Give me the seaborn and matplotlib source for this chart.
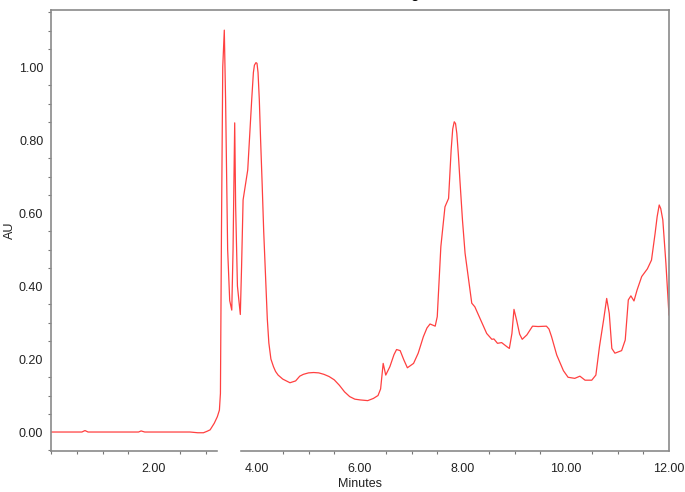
import numpy as np
import pandas as pd
import seaborn as sns
import matplotlib.pyplot as plt
from matplotlib.patches import Rectangle
from matplotlib.ticker import MultipleLocator, FormatStrFormatter

# chromatogram trace (minutes, AU)
minutes = [0.00, 0.60, 0.66, 0.72, 1.70, 1.75, 1.82, 2.70, 2.85, 2.96, 3.03, 3.09,
           3.17, 3.23, 3.27, 3.29, 3.31, 3.335, 3.365, 3.39, 3.43, 3.47, 3.51, 3.535,
           3.555, 3.567, 3.585, 3.62, 3.676, 3.70, 3.73, 3.82, 3.897, 3.93, 3.95, 3.98,
           4.00, 4.02, 4.045, 4.07, 4.10, 4.13, 4.17, 4.20, 4.23, 4.27, 4.32, 4.36,
           4.41, 4.50, 4.64, 4.75, 4.83, 4.90, 5.00, 5.10, 5.20, 5.30, 5.40, 5.50,
           5.60, 5.70, 5.80, 5.90, 6.00, 6.15, 6.26, 6.35, 6.40, 6.45,
           6.50, 6.58, 6.66, 6.71, 6.78, 6.85, 6.92, 7.04, 7.13, 7.23, 7.30, 7.36, 7.46, 7.50, 7.57,
           7.65, 7.72, 7.77, 7.80, 7.83, 7.855, 7.88, 7.91, 7.94, 7.99, 8.04, 8.10, 8.17, 8.23, 8.33, 8.46,
           8.56, 8.60, 8.67, 8.75, 8.85, 8.90, 8.95, 8.99, 9.04, 9.10, 9.15, 9.24, 9.35,
           9.46, 9.62, 9.67, 9.72, 9.82, 9.95, 10.04, 10.17, 10.27, 10.37, 10.50, 10.58, 10.65,
           10.73, 10.79, 10.84, 10.89, 10.95, 11.08, 11.15, 11.21, 11.26, 11.32, 11.38, 11.47,
           11.58, 11.66, 11.73, 11.77, 11.81, 11.84, 11.88, 11.94, 12.00]
au = [0.000, 0.000, 0.004, 0.000, 0.000, 0.003, 0.000, 0.000, -0.002, -0.002, 0.002, 0.006,
      0.024, 0.042, 0.060, 0.106, 0.55, 1.00, 1.101, 0.91, 0.50, 0.36, 0.334, 0.50,
      0.72, 0.847, 0.62, 0.40, 0.322, 0.45, 0.636, 0.718, 0.91, 0.985, 1.005, 1.012,
      1.010, 0.985, 0.91, 0.80, 0.68, 0.55, 0.41, 0.31, 0.244, 0.200, 0.179, 0.166,
      0.156, 0.145, 0.135, 0.140, 0.153, 0.158, 0.162, 0.163, 0.162, 0.158, 0.152, 0.143,
      0.128, 0.110, 0.097, 0.090, 0.088, 0.086, 0.092, 0.100, 0.118, 0.188,
      0.156, 0.179, 0.212, 0.226, 0.223, 0.198, 0.176, 0.188, 0.216, 0.261, 0.285, 0.296, 0.290, 0.316, 0.508,
      0.617, 0.640, 0.773, 0.830, 0.850, 0.845, 0.818, 0.760, 0.690, 0.580, 0.490, 0.426, 0.353, 0.343, 0.311, 0.270,
      0.254, 0.255, 0.243, 0.245, 0.234, 0.229, 0.270, 0.336, 0.307, 0.268, 0.254, 0.266, 0.290,
      0.289, 0.290, 0.282, 0.261, 0.211, 0.168, 0.150, 0.147, 0.153, 0.142, 0.142, 0.156, 0.234,
      0.307, 0.366, 0.325, 0.229, 0.216, 0.223, 0.252, 0.362, 0.373, 0.359, 0.389, 0.426,
      0.447, 0.471, 0.544, 0.590, 0.622, 0.612, 0.581, 0.462, 0.320]

df = pd.DataFrame({"Minutes": minutes, "AU": au})

sns.set_style("white")
plt.rcParams["font.family"] = ["Liberation Sans", "DejaVu Sans"]

fig = plt.figure(figsize=(6.85, 4.92), dpi=100)
ax = fig.add_axes([51/685, 1 - 451/492, 618/685, (451 - 9.7)/492])

sns.lineplot(data=df, x="Minutes", y="AU", color="#ff4040", linewidth=0.9, ax=ax)

ax.set_xlim(0, 12)
ax.set_ylim(-0.052, 1.157)

# ticks: labels every 2 min / 0.2 AU, small ticks in between
ax.xaxis.set_major_locator(MultipleLocator(2))
ax.xaxis.set_minor_locator(MultipleLocator(0.5))
ax.yaxis.set_major_locator(MultipleLocator(0.2))
ax.yaxis.set_minor_locator(MultipleLocator(0.05))
ax.xaxis.set_major_formatter(FormatStrFormatter("%.2f"))
ax.yaxis.set_major_formatter(FormatStrFormatter("%.2f"))
ax.set_xticks([2, 4, 6, 8, 10, 12])

ax.tick_params(axis="both", which="both", direction="out", color="#777777",
               labelsize=9, labelcolor="#222222")
ax.tick_params(axis="x", which="major", length=5, width=0.8, pad=4)
ax.tick_params(axis="x", which="minor", length=2.5, width=0.8, bottom=True)
ax.tick_params(axis="y", which="major", length=4.5, width=0.8, pad=1)
ax.tick_params(axis="y", which="minor", length=2.5, width=0.8, left=True)

for s in ax.spines.values():
    s.set_color("#8a8a8a")
    s.set_linewidth(1.2)

ax.set_xlabel("Minutes", fontsize=9, color="#222222", labelpad=2)
ax.set_ylabel("AU", fontsize=9, color="#222222", labelpad=2)

# gap in the bottom axis line seen in the original
fig.add_artist(Rectangle((218/685, 1 - 462/492), 21/685, 14/492,
                         transform=fig.transFigure, color="white", zorder=10))

# title is cut off at the top edge, only a descender shows
fig.text(415/685, 1 + 2/492, "g", ha="center", va="baseline",
         fontsize=10, fontweight="bold", color="black")

plt.savefig("out.png", dpi=100)
